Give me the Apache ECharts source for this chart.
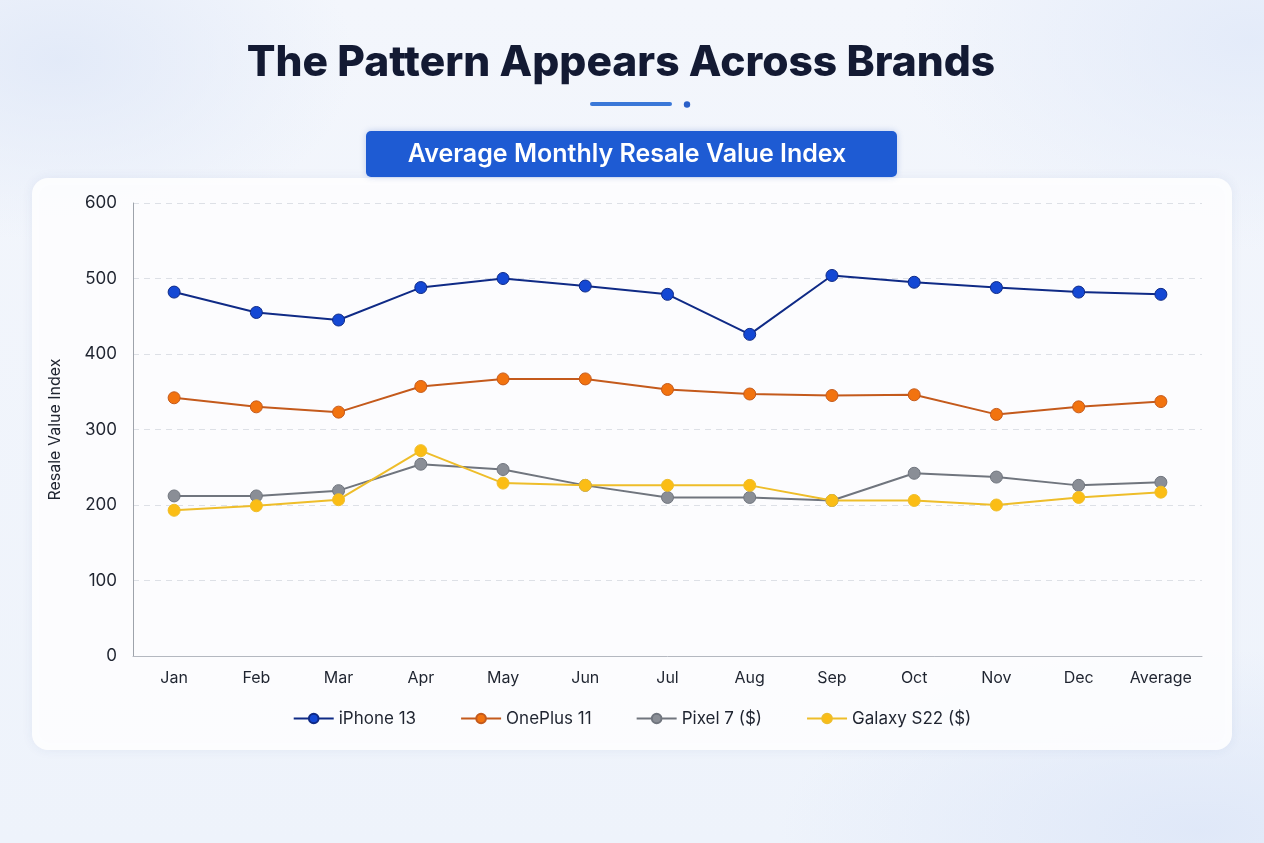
<!DOCTYPE html>
<html>
<head>
<meta charset="utf-8">
<title>Resale Value Index</title>
<script src="https://cdn.jsdelivr.net/npm/echarts@6/dist/echarts.min.js"></script>
<style>
  html, body { margin: 0; padding: 0; }
  body {
    width: 1264px; height: 843px; overflow: hidden;
    background:
      radial-gradient(ellipse 420px 260px at 60px 60px, rgba(225,233,248,0.9), rgba(225,233,248,0) 70%),
      radial-gradient(ellipse 500px 300px at 1250px 40px, rgba(226,234,249,0.9), rgba(226,234,249,0) 70%),
      radial-gradient(ellipse 600px 260px at 1200px 830px, rgba(222,231,248,0.9), rgba(222,231,248,0) 70%),
      linear-gradient(180deg, #f3f6fc 0%, #eef3fb 100%);
  }
  #main { width: 1264px; height: 843px; }
</style>
</head>
<body>
<div id="main"></div>
<script>
  var months = ['Jan','Feb','Mar','Apr','May','Jun','Jul','Aug','Sep','Oct','Nov','Dec','Average'];
  var iphone13 = [482, 455, 445, 488, 500, 490, 479, 426, 504, 495, 488, 482, 479];
  var oneplus11 = [342, 330, 323, 357, 367, 367, 353, 347, 345, 346, 320, 330, 337];
  var pixel7 = [212, 212, 219, 254, 247, 226, 210, 210, 206, 242, 237, 226, 230];
  var galaxyS22 = [193, 199, 207, 272, 229, 226, 226, 226, 206, 206, 200, 210, 217];

  var myChart = echarts.init(document.getElementById('main'));

  function lineSeries(name, data, lineColor, dotColor) {
    return {
      name: name,
      type: 'line',
      data: data,
      symbol: 'circle',
      symbolSize: 12,
      lineStyle: { color: lineColor, width: 2 },
      itemStyle: { color: dotColor, borderColor: lineColor, borderWidth: 1 }
    };
  }

  var option = {
    textStyle: { fontFamily: 'Inter, "Noto Sans", sans-serif' },
    graphic: [
      // card
      {
        type: 'rect', z: -10,
        shape: { x: 32, y: 178, width: 1200, height: 572, r: 16 },
        style: { fill: 'rgba(255,255,255,0.88)', shadowBlur: 12, shadowColor: 'rgba(40,70,140,0.08)' }
      },
      // title
      {
        type: 'text', x: 621, y: 63,
        style: { text: 'The Pattern Appears Across Brands', fill: '#131a33',
          font: '800 42.5px Inter, "Noto Sans", sans-serif', textAlign: 'center', textVerticalAlign: 'middle' }
      },
      // underline decoration
      {
        type: 'rect',
        shape: { x: 590, y: 102, width: 82, height: 4, r: 2 },
        style: { fill: '#3a78d8' }
      },
      {
        type: 'circle',
        shape: { cx: 687, cy: 104.5, r: 3.2 },
        style: { fill: '#2a5fc8' }
      },
      // subtitle box
      {
        type: 'rect',
        shape: { x: 366, y: 131, width: 531, height: 46, r: 5 },
        style: { fill: '#1e5bd3', shadowBlur: 6, shadowColor: 'rgba(30,80,190,0.25)' }
      },
      {
        type: 'text', x: 627, y: 154,
        style: { text: 'Average Monthly Resale Value Index', fill: '#ffffff',
          font: '600 25px Inter, "Noto Sans", sans-serif', textAlign: 'center', textVerticalAlign: 'middle' }
      }
    ],
    legend: {
      bottom: 111,
      left: 'center',
      itemGap: 44,
      itemWidth: 40,
      itemHeight: 12,
      textStyle: { fontSize: 17, color: '#1f2430' },
      data: ['iPhone 13', 'OnePlus 11', 'Pixel 7 ($)', 'Galaxy S22 ($)']
    },
    grid: { left: 133, right: 62, top: 203, bottom: 187 },
    xAxis: {
      type: 'category',
      data: months,
      boundaryGap: true,
      axisLine: { lineStyle: { color: '#b4b8c0' } },
      axisTick: { show: false },
      axisLabel: { color: '#1f2430', fontSize: 16, margin: 14 }
    },
    yAxis: {
      type: 'value',
      min: 0, max: 600, interval: 100,
      name: 'Resale Value Index',
      nameLocation: 'middle',
      nameGap: 70,
      nameTextStyle: { fontSize: 16, color: '#1f2430' },
      axisLine: { show: true, lineStyle: { color: '#9ea3ab' } },
      axisTick: { show: false },
      axisLabel: { color: '#1f2430', fontSize: 17, margin: 16 },
      splitLine: { lineStyle: { color: '#dde0e6', type: [6, 5] } }
    },
    series: [
      lineSeries('iPhone 13', iphone13, '#0f2a86', '#1448d4'),
      lineSeries('OnePlus 11', oneplus11, '#c45a1c', '#f2730f'),
      lineSeries('Pixel 7 ($)', pixel7, '#70757e', '#8a8e96'),
      lineSeries('Galaxy S22 ($)', galaxyS22, '#eebd2a', '#fbbd15')
    ]
  };

  myChart.setOption(option);
</script>
</body>
</html>
